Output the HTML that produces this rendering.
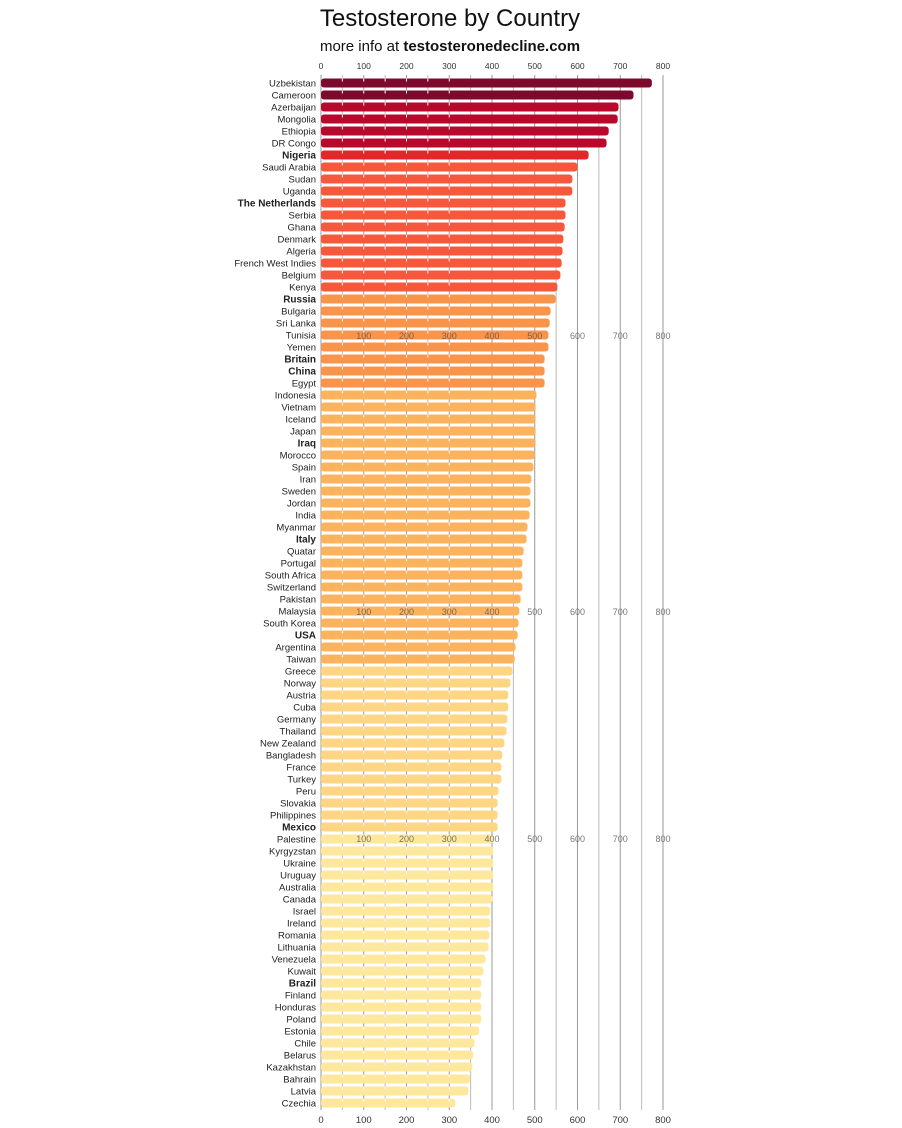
<!DOCTYPE html>
<html><head><meta charset="utf-8">
<style>
body{margin:0;background:#fff;width:902px;height:1128px;overflow:hidden;font-family:"Liberation Sans",sans-serif}
svg{display:block}
</style></head><body>
<svg id="c" width="902" height="1128">
<text x="450" y="26" text-anchor="middle" font-size="24" fill="#111">Testosterone by Country</text>
<text x="450" y="51" text-anchor="middle" font-size="15" fill="#111">more info at <tspan font-weight="bold">testosteronedecline.com</tspan></text>
</svg>
<script>
const countries=["Uzbekistan","Cameroon","Azerbaijan","Mongolia","Ethiopia","DR Congo","Nigeria","Saudi Arabia","Sudan","Uganda","The Netherlands","Serbia","Ghana","Denmark","Algeria","French West Indies","Belgium","Kenya","Russia","Bulgaria","Sri Lanka","Tunisia","Yemen","Britain","China","Egypt","Indonesia","Vietnam","Iceland","Japan","Iraq","Morocco","Spain","Iran","Sweden","Jordan","India","Myanmar","Italy","Quatar","Portugal","South Africa","Switzerland","Pakistan","Malaysia","South Korea","USA","Argentina","Taiwan","Greece","Norway","Austria","Cuba","Germany","Thailand","New Zealand","Bangladesh","France","Turkey","Peru","Slovakia","Philippines","Mexico","Palestine","Kyrgyzstan","Ukraine","Uruguay","Australia","Canada","Israel","Ireland","Romania","Lithuania","Venezuela","Kuwait","Brazil","Finland","Honduras","Poland","Estonia","Chile","Belarus","Kazakhstan","Bahrain","Latvia","Czechia"];
const values=[774,731,696,694,673,668,626,600,588,588,572,572,570,567,565,563,560,553,549,537,535,532,532,523,523,523,504,502,502,502,502,500,497,492,490,490,488,483,481,474,471,471,471,467,464,462,460,455,453,448,443,438,438,436,434,429,424,422,422,415,413,413,413,403,403,403,403,403,401,396,396,394,392,385,380,375,375,375,375,370,359,356,354,349,345,314];
const boldCountries=["Nigeria","The Netherlands","Russia","Britain","China","Iraq","Italy","USA","Mexico","Brazil"];
const ticks=[0,100,200,300,400,500,600,700,800];
const NS="http://www.w3.org/2000/svg",svg=document.getElementById('c');
const x0=321,x1=663,xs=v=>x0+(x1-x0)*v/800;
const y0=83,step=(1103-83)/(countries.length-1),ys=i=>y0+i*step;
function mk(t,a){const e=document.createElementNS(NS,t);for(const k in a)e.setAttribute(k,a[k]);svg.appendChild(e);return e;}
function color(i){if(i<2)return"#7d0a2c";if(i<6)return"#b8082c";if(i<7)return"#e3262a";if(i<18)return"#f7573a";if(i<26)return"#fa944b";if(i<49)return"#fdb35e";if(i<63)return"#fed582";return"#ffe79c";}
for(let v=0;v<=800;v+=50){const l=mk('line',{x1:xs(v),x2:xs(v),y1:75,y2:1110,stroke:v%100?"#bbb":"#999","stroke-width":1});

}
countries.forEach((c,i)=>{
const r=mk('rect',{x:x0,y:ys(i)-4.5,width:xs(values[i])-x0,height:9,rx:3,fill:color(i)});


const t=mk('text',{x:316,y:ys(i)+3.5,'text-anchor':'end','font-size':boldCountries.includes(c)?10:9.5,'font-weight':boldCountries.includes(c)?'bold':'normal',fill:'#222'});
t.textContent=c;

});
for(let v=50;v<=800;v+=50){if(v>=350)continue;countries.forEach((c,i)=>{if(xs(values[i])>xs(v)){const l=mk('line',{x1:xs(v),x2:xs(v),y1:ys(i)-4.5,y2:ys(i)-1.5,stroke:'#fff','stroke-width':1});}});}
[69,1123].forEach((yy,k)=>ticks.forEach(v=>{const t=mk('text',{x:xs(v),y:yy,'text-anchor':'middle','font-size':k?9.5:8.5,fill:'#333'});t.textContent=v;

}));
[339,615,842].forEach(yy=>ticks.slice(1).forEach(v=>{const t=mk('text',{x:xs(v),y:yy,'text-anchor':'middle','font-size':9,fill:'#555','fill-opacity':0.8});t.textContent=v;

}));
</script>
</body></html>
